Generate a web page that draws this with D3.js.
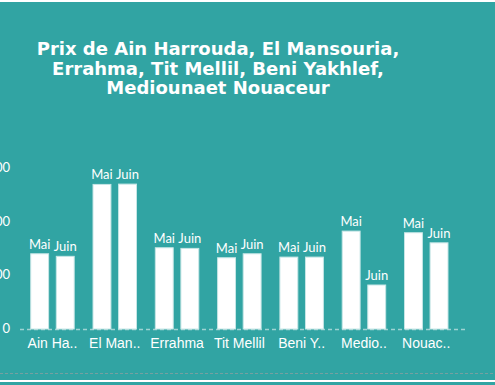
<html lang="fr">
<head>
<meta charset="UTF-8">
<script src="https://d3js.org/d3.v7.min.js"></script>
<style>
    body { margin: 0; background: #31a4a3; overflow: hidden; }
    svg text { fill: #ffffff; }
</style>
</head>
<body>
<div id="chart"></div>
<script>
    const villes = ["Ain Ha..", "El Man..", "Errahma", "Tit Mellil", "Beni Y..", "Medio..", "Nouac.."];
    const mois = ["Mai", "Juin"];
    const prixMai = [7010, 13470, 7570, 6640, 6700, 9120, 8970];
    const prixJuin = [6770, 13500, 7510, 7010, 6700, 4100, 8030];
    const yTicks = [0, 5000, 10000, 15000];
    const titre = ["Prix de Ain Harrouda, El Mansouria,", "Errahma, Tit Mellil, Beni Yakhlef,", "Mediounaet Nouaceur"];

    const W = 495, H = 385;
    const svg = d3.select("#chart").append("svg")
        .attr("width", W)
        .attr("height", H);

    svg.append("rect").attr("width", W).attr("height", H).attr("fill", "#31a4a3");

    // top and bottom frame lines
    svg.append("rect").attr("x", 0).attr("y", 0).attr("width", W).attr("height", 2).attr("fill", "#ffffff");
    svg.append("line").attr("x1", 0).attr("x2", W).attr("y1", 373.5).attr("y2", 373.5)
        .attr("stroke", "#76a0a0").attr("stroke-dasharray", "3,2");
    svg.append("rect").attr("x", 0).attr("y", 380).attr("width", W).attr("height", 2).attr("fill", "#ffffff");

    // title
    svg.append("text")
        .attr("x", 218).attr("y", 55)
        .attr("text-anchor", "middle")
        .style("font-family", "'DejaVu Sans', sans-serif")
        .style("font-weight", "bold")
        .style("font-size", "18px")
        .selectAll("tspan")
        .data(titre)
        .enter()
        .append("tspan")
        .attr("x", 218)
        .attr("dy", (d, i) => i === 0 ? 0 : 19.5)
        .text(d => d);

    const x0 = d3.scaleBand().domain(villes).range([20, 458.7]).paddingInner(0.302).paddingOuter(0.172);
    const x1 = d3.scaleBand().domain(mois).range([0, x0.bandwidth()]).paddingInner(0.3);
    const y = d3.scaleLinear().domain([0, 15000]).range([329, 168]);

    // y axis labels (clipped at left edge)
    svg.append("g")
        .selectAll("text")
        .data(yTicks)
        .enter()
        .append("text")
        .attr("x", 10)
        .attr("y", d => y(d) + 4)
        .attr("text-anchor", "end")
        .style("font-family", "Lato, sans-serif")
        .style("font-size", "13px")
        .text(d => d);

    // baseline
    svg.append("line")
        .attr("x1", 20).attr("x2", 466)
        .attr("y1", y(0) + 0.5).attr("y2", y(0) + 0.5)
        .attr("stroke", "#9fd3d3").attr("stroke-width", 1.5)
        .attr("stroke-dasharray", "4,3");

    const rows = villes.map((v, i) => ({ ville: v, vals: [prixMai[i], prixJuin[i]] }));

    const groups = svg.append("g")
        .selectAll("g")
        .data(rows)
        .enter()
        .append("g")
        .attr("transform", d => `translate(${x0(d.ville)},0)`);

    groups.selectAll("rect")
        .data(d => d.vals.map((v, j) => ({ mois: mois[j], v: v })))
        .enter()
        .append("rect")
        .attr("x", d => x1(d.mois))
        .attr("y", d => y(d.v))
        .attr("width", x1.bandwidth())
        .attr("height", d => y(0) - y(d.v))
        .attr("fill", "#ffffff")
        .attr("stroke", "#c6e6e6")
        .attr("stroke-width", 1);

    groups.selectAll("text.lbl")
        .data(d => d.vals.map((v, j) => ({ mois: mois[j], v: v })))
        .enter()
        .append("text")
        .attr("class", "lbl")
        .attr("x", d => x1(d.mois) + x1.bandwidth() / 2)
        .attr("y", d => y(d.v) - 5)
        .attr("text-anchor", "middle")
        .style("font-family", "Lato, sans-serif")
        .style("font-size", "13px")
        .text(d => d.mois);

    // category labels
    svg.append("g")
        .selectAll("text")
        .data(villes)
        .enter()
        .append("text")
        .attr("x", d => x0(d) + x0.bandwidth() / 2)
        .attr("y", 348)
        .attr("text-anchor", "middle")
        .style("font-family", "'Liberation Sans', Arial, sans-serif")
        .style("font-size", "14px")
        .text(d => d);
</script>
</body>
</html>
